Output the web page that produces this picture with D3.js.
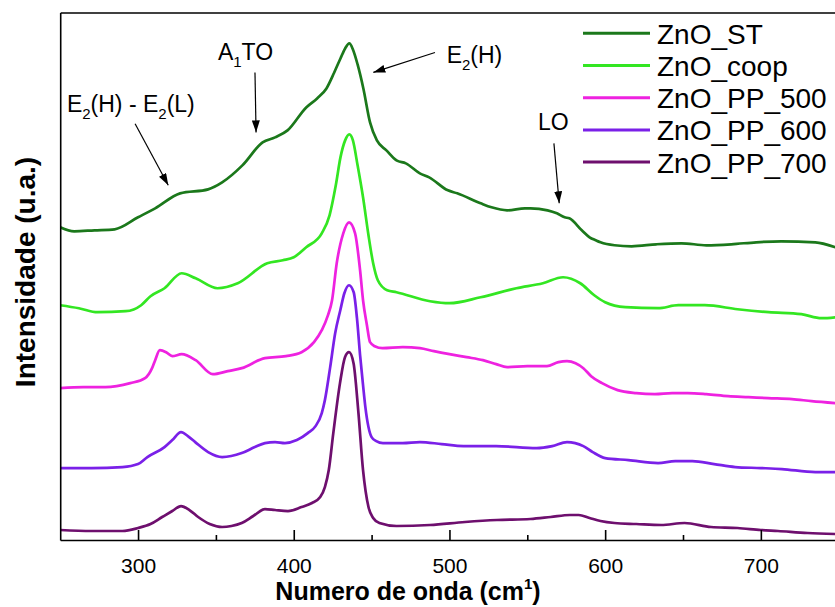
<!DOCTYPE html>
<html>
<head>
<meta charset="utf-8">
<script src="https://cdn.jsdelivr.net/npm/d3@7"></script>
<style>
body { margin: 0; background: #fff; }
text { font-family: Arial, "Liberation Sans", sans-serif; fill: #000; }
</style>
</head>
<body>
<div id="my_dataviz"></div>
<script>
// Raman spectra, [wavenumber, intensity (u.a.)]
const zno_st = [[250,313],[259,309],[272,310],[285,311],[300,323],[311,332],[327,347],[345,351],[354,358],[367,375],[380,398],[388,403],[396,410],[408,433],[415,442],[421,452],[426,468],[430,482],[433,492],[435.7,497],[438,491],[441,476],[444.7,452],[449,418],[453.4,400],[459.5,390],[466,380],[472,377],[481,367],[487,363],[499,350],[505,347],[520,337],[527,333],[537,330],[548.5,332],[552,332],[563,330],[569,327],[574,323],[577,322],[585,310],[590,303],[594,300],[597,298],[606,295],[617,294],[633,296],[649,297],[665,295],[681,296],[697,298],[713,299],[735,298],[748,293]]
const zno_coop = [[250,235],[262,232],[274,228],[292,229],[302,235],[308,244],[317,252],[328,267],[337,262],[351,252],[364,257],[383,277],[393,280],[400,283],[408,293],[418,307],[423,325],[427,355],[430,383],[433,400],[435.7,406],[438,400],[441,375],[444.5,343],[448,305],[451,277],[454,260],[460,250],[466,248],[487.5,239],[500,237],[520,243],[543,252],[560,257],[573,263],[584,257],[593,245],[600,238],[613,233],[634,232],[647,235],[664,235],[685,231],[705,228],[726,226],[739,222],[748,223]]
const zno_pp500 = [[250,152],[265,153],[279,153],[295,157],[304.5,162],[309,172],[311,180],[314,190],[318,188],[322,184],[328,186],[337,180],[348,166],[357.6,169],[366.6,172],[381.5,182],[395,184],[405,188],[413,198],[418,210],[422,225],[424.6,240],[427.6,277],[431.8,307],[435.5,318],[439.4,307],[442.6,270],[444.5,240],[447,215],[449,198],[452,194],[457,192],[470,193],[481,192],[490,189],[500,186],[511,183],[521.5,180],[530,176],[537,173],[550,174],[562.6,174],[570,178],[575.5,179],[581,177],[586,172],[591,164],[598,157],[608,150],[620,147],[632,146],[643,147],[653,147],[665,146],[679,144],[692,143],[704.6,142],[720,141],[732.6,139],[748,137]]
const zno_pp600 = [[250,72],[270,72],[290,73],[300,76],[306,83],[317,93],[322,100],[327.6,108],[332,104],[336.7,98],[345,88],[354,83],[366.6,87],[375,93],[381.5,97],[388,98],[394.3,97],[402,100],[409,107],[414,114],[418,127],[420,140],[423.4,173],[426.6,207],[429.9,230],[432.5,247],[435.5,255],[438.5,248],[440.6,222],[442.6,185],[444.5,155],[446,133],[450,103],[453,99],[457.3,97],[470,97],[481,98],[495,96],[509,94],[530,94],[556,92],[566,94],[575.5,98],[586,94],[592,88],[600,82],[615,80],[634,77],[645,79],[656,79],[670,76],[683.5,73],[700,72],[713.5,71],[735,68],[748,68]]
const zno_pp700 = [[250,10],[270,9],[290,9],[300,12],[308,16],[315.5,23],[322,29],[327.6,34],[333,30],[338.6,23],[346,16],[354,13],[360,14],[366.6,17],[374,24],[381.5,31],[388,30],[396.3,29],[405,33],[411.7,37],[417,43],[420,53],[422.5,70],[425.4,107],[429.7,157],[432.9,183],[435.5,188],[438.4,177],[441.5,128],[444.5,70],[448,33],[451,22],[455,17],[466,14],[487.5,15],[510,18],[530.5,20],[552,21],[565,23],[577.4,25],[583,25],[590,22],[597,19],[606,17],[620,16],[636,15],[651,17],[668,13],[685,12],[700,10],[711,9],[730,7],[748,6]]

const seriesNames = ["ZnO_ST", "ZnO_coop", "ZnO_PP_500", "ZnO_PP_600", "ZnO_PP_700"]
const seriesData = [zno_st, zno_coop, zno_pp500, zno_pp600, zno_pp700]
const colors = ["#1b781b", "#33e622", "#ee22e0", "#7a20e8", "#6e0f6e"]
const majorTicks = [300, 400, 500, 600, 700]
const minorTicks = [350, 450, 550, 650]

// peak labels: [main, sub, rest], text anchor and arrow in data coordinates
const peakLabels = [
    {parts: ["E", "2", "(H) - E", "2", "(L)"], at: [254.3, 428], from: [298.1, 416.7], to: [319.4, 355]},
    {parts: ["A", "1", "TO"], at: [351.3, 480], from: [375.1, 468], to: [375.8, 408]},
    {parts: ["E", "2", "(H)"], at: [498.2, 477], from: [490.7, 488], to: [451.1, 468]},
    {parts: ["LO"], at: [556.9, 410], from: [567.1, 397], to: [570.5, 337]}
]

const width = 835
const height = 607

const svg = d3.select("#my_dataviz")
  .append("svg")
    .attr("width", width)
    .attr("height", height)

const x = d3.scaleLinear().domain([250, 750]).range([60.2, 838.7])
const y = d3.scaleLinear().domain([0, 528]).range([540, 12.5])

svg.append("clipPath").attr("id", "plotclip")
  .append("rect")
    .attr("x", 60).attr("y", 12.5)
    .attr("width", 780).attr("height", 528)

// spectra
const line = d3.line()
    .x(d => x(d[0]))
    .y(d => y(d[1]))
    .curve(d3.curveMonotoneX)

svg.append("g")
    .attr("clip-path", "url(#plotclip)")
  .selectAll("path")
  .data(seriesData)
  .join("path")
    .attr("d", line)
    .attr("fill", "none")
    .attr("stroke", (d, i) => colors[i])
    .attr("stroke-width", 2.7)
    .attr("stroke-linejoin", "round")

// axes
const xAxis = svg.append("g")
    .attr("transform", `translate(0,${y(0)})`)
    .call(d3.axisBottom(x).tickValues(majorTicks).tickSizeInner(-10).tickSizeOuter(0).tickPadding(18))
xAxis.selectAll("text").style("font-size", "21px")

svg.append("g")
    .attr("transform", `translate(0,${y(0)})`)
    .call(d3.axisBottom(x).tickValues(minorTicks).tickSizeInner(-5).tickSizeOuter(0).tickFormat(""))
  .select(".domain").remove()

svg.append("g")
    .attr("transform", `translate(${x(250)},0)`)
    .call(d3.axisLeft(y).tickValues([]).tickSizeOuter(0))

svg.append("g")
    .attr("transform", `translate(0,${y(528)})`)
    .call(d3.axisTop(x).tickValues([]).tickSizeOuter(0))

svg.selectAll(".domain, .tick line").attr("stroke", "#000").attr("stroke-width", 1.6)

// axis titles
svg.append("text")
    .attr("transform", "translate(35,272) rotate(-90)")
    .attr("text-anchor", "middle")
    .style("font-size", "28px")
    .style("font-weight", "bold")
    .text("Intensidade (u.a.)")

const xTitle = svg.append("text")
    .attr("x", 408)
    .attr("y", 600)
    .attr("text-anchor", "middle")
    .style("font-size", "25px")
    .style("font-weight", "bold")
xTitle.append("tspan").text("Numero de onda (cm")
xTitle.append("tspan").attr("dy", -11).style("font-size", "15px").text("1")
xTitle.append("tspan").attr("dy", 11).text(")")

// arrows and peak labels
svg.append("defs").append("marker")
    .attr("id", "head")
    .attr("viewBox", "0 0 12 8")
    .attr("refX", 12).attr("refY", 4)
    .attr("markerWidth", 12).attr("markerHeight", 8)
    .attr("markerUnits", "userSpaceOnUse")
    .attr("orient", "auto")
  .append("path")
    .attr("d", "M0,0L12,4L0,8Z")
    .attr("fill", "#000")

peakLabels.forEach(p => {
    svg.append("line")
        .attr("x1", x(p.from[0])).attr("y1", y(p.from[1]))
        .attr("x2", x(p.to[0])).attr("y2", y(p.to[1]))
        .attr("stroke", "#000")
        .attr("stroke-width", 1.2)
        .attr("marker-end", "url(#head)")
    const t = svg.append("text")
        .attr("x", x(p.at[0]))
        .attr("y", y(p.at[1]))
        .style("font-size", "23px")
    p.parts.forEach((s, i) => {
        if (i % 2 == 1) {
            t.append("tspan").attr("dy", 7).style("font-size", "15px").text(s)
        } else {
            t.append("tspan").attr("dy", i == 0 ? 0 : -7).text(s)
        }
    })
})

// legend
const legend = svg.append("g")
    .selectAll("g")
    .data(seriesNames)
    .join("g")
    .attr("transform", (d, i) => `translate(583,${33.3 + i * 32.2})`)

legend.append("line")
    .attr("x1", 0).attr("x2", 67)
    .attr("stroke", (d, i) => colors[i])
    .attr("stroke-width", 3)

legend.append("text")
    .attr("x", 74)
    .attr("y", 10.5)
    .style("font-size", "28px")
    .text(d => d)
</script>
</body>
</html>
